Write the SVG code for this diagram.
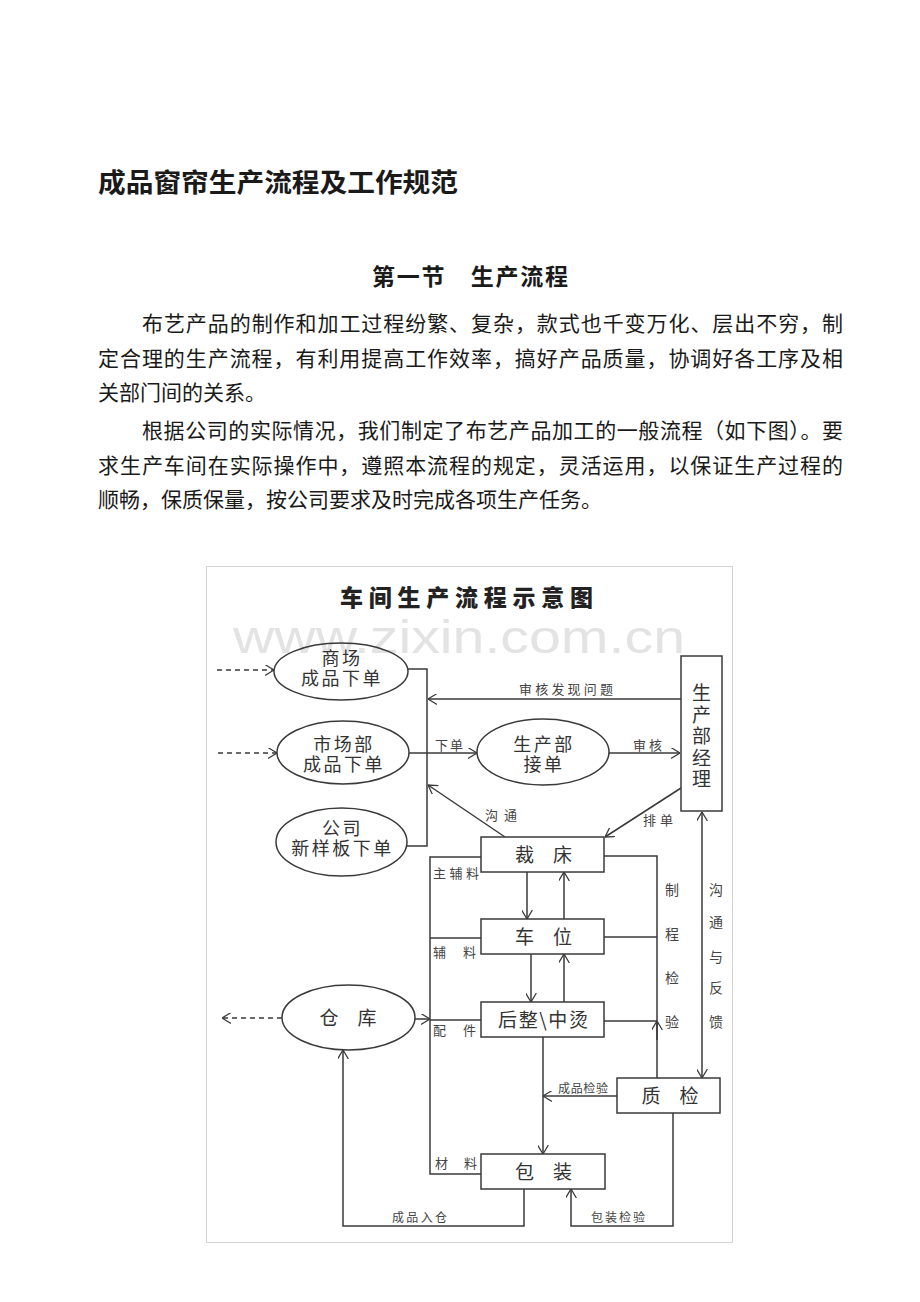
<svg xmlns="http://www.w3.org/2000/svg" width="920" height="1302" viewBox="0 0 920 1302">
<defs>
<style>
.page{font-family:"Noto Sans CJK SC","Noto Sans",sans-serif;fill:#1a1a1a}
.h1{font-size:26px;font-weight:bold}
.h2{font-size:23px;font-weight:bold}
.p{font-size:21px}
.title{font-family:"Noto Sans CJK SC",sans-serif;font-size:23px;font-weight:900;fill:#222}
.wm{font-family:"Liberation Sans",Arial,sans-serif;font-size:47px;fill:#e3e3e3}
.nt{font-family:"Noto Sans CJK SC",sans-serif;font-size:18px;fill:#333;text-anchor:middle;letter-spacing:2.5px}
.bt{font-family:"Noto Sans CJK SC",sans-serif;font-size:19px;fill:#333;text-anchor:middle}
.el{font-family:"Noto Sans CJK SC",sans-serif;font-size:13px;fill:#444}
.es{font-family:"Noto Sans CJK SC",sans-serif;font-size:12px;fill:#444}
.vt{font-family:"Noto Sans CJK SC",sans-serif;font-size:14px;fill:#444;text-anchor:middle}
.shape{fill:none;stroke:#3a3a3a;stroke-width:1.5}
.box{fill:#fff;stroke:#3a3a3a;stroke-width:1.5}
.ln{fill:none;stroke:#3a3a3a;stroke-width:1.5}
.dash{fill:none;stroke:#3a3a3a;stroke-width:1.3;stroke-dasharray:5,4}
</style>
<marker id="ah" viewBox="0 0 10 12" refX="10" refY="6" markerWidth="9" markerHeight="11" markerUnits="userSpaceOnUse" orient="auto-start-reverse">
<path d="M0,0 L10,6 L0,12" fill="none" stroke="#3a3a3a" stroke-width="1.4"/>
</marker>
</defs>
<rect x="0" y="0" width="920" height="1302" fill="#fff"/>

<g id="document-text" class="page">
<text class="h1" x="98" y="192" textLength="360" lengthAdjust="spacingAndGlyphs">成品窗帘生产流程及工作规范</text>
<text class="h2" x="372" y="285" textLength="196" lengthAdjust="spacing">第一节　生产流程</text>
<text class="p" x="142" y="331" textLength="701" lengthAdjust="spacing">布艺产品的制作和加工过程纷繁、复杂，款式也千变万化、层出不穷，制</text>
<text class="p" x="98" y="366" textLength="745" lengthAdjust="spacing">定合理的生产流程，有利用提高工作效率，搞好产品质量，协调好各工序及相</text>
<text class="p" x="98" y="400">关部门间的关系。</text>
<text class="p" x="142" y="438" textLength="701" lengthAdjust="spacing">根据公司的实际情况，我们制定了布艺产品加工的一般流程（如下图）。要</text>
<text class="p" x="98" y="473" textLength="745" lengthAdjust="spacing">求生产车间在实际操作中，遵照本流程的规定，灵活运用，以保证生产过程的</text>
<text class="p" x="98" y="507">顺畅，保质保量，按公司要求及时完成各项生产任务。</text>
</g>

<g id="frame">
<rect x="206.5" y="566.5" width="526" height="676" fill="none" stroke="#d4d4d4" stroke-width="1"/>
<text class="wm" x="233" y="653" textLength="452" lengthAdjust="spacingAndGlyphs">www.zixin.com.cn</text>
<text class="title" x="340" y="606" textLength="253" lengthAdjust="spacing">车间生产流程示意图</text>
</g>

<g id="connectors">
<line class="dash" x1="217" y1="670" x2="274" y2="670" marker-end="url(#ah)"/>
<line class="dash" x1="218" y1="753" x2="277" y2="753" marker-end="url(#ah)"/>
<line class="dash" x1="282" y1="1018" x2="222" y2="1018" marker-end="url(#ah)"/>
<polyline class="ln" points="408,669 427,669 427,846 407,846"/>
<line class="ln" x1="409" y1="753" x2="477" y2="753" marker-end="url(#ah)"/>
<text class="el" x="435" y="750" textLength="28" lengthAdjust="spacing">下单</text>
<line class="ln" x1="609" y1="753" x2="680" y2="753" marker-end="url(#ah)"/>
<text class="el" x="633" y="750" textLength="29" lengthAdjust="spacing">审核</text>
<line class="ln" x1="681" y1="699" x2="428" y2="699" marker-end="url(#ah)"/>
<text class="el" x="519" y="694" textLength="94" lengthAdjust="spacing">审核发现问题</text>
<line class="ln" x1="681" y1="788" x2="605" y2="837" marker-end="url(#ah)"/>
<text class="el" x="643" y="825" textLength="30" lengthAdjust="spacing">排单</text>
<line class="ln" x1="505" y1="837" x2="428" y2="785" marker-end="url(#ah)"/>
<text class="el" x="485" y="820" textLength="32" lengthAdjust="spacing">沟通</text>
<line class="ln" x1="702" y1="812" x2="702" y2="1078" marker-start="url(#ah)" marker-end="url(#ah)"/>
<text class="vt" x="716" y="895">沟</text>
<text class="vt" x="716" y="927">通</text>
<text class="vt" x="716" y="962">与</text>
<text class="vt" x="716" y="993">反</text>
<text class="vt" x="716" y="1027">馈</text>
<polyline class="ln" points="481,857 430,857 430,1174 481,1174"/>
<line class="ln" x1="481" y1="938" x2="430" y2="938"/>
<line class="ln" x1="481" y1="1020" x2="430" y2="1020"/>
<line class="ln" x1="415" y1="1019" x2="430" y2="1019" marker-end="url(#ah)"/>
<text class="el" x="433" y="878" textLength="46" lengthAdjust="spacing">主辅料</text>
<text class="el" x="433" y="957" textLength="43" lengthAdjust="spacing">辅　料</text>
<text class="el" x="433" y="1035" textLength="43" lengthAdjust="spacing">配　件</text>
<text class="el" x="435" y="1168" textLength="42" lengthAdjust="spacing">材　料</text>
<line class="ln" x1="527" y1="872" x2="527" y2="919" marker-end="url(#ah)"/>
<line class="ln" x1="564" y1="919" x2="564" y2="872" marker-end="url(#ah)"/>
<line class="ln" x1="531" y1="954" x2="531" y2="1002" marker-end="url(#ah)"/>
<line class="ln" x1="564" y1="1002" x2="564" y2="954" marker-end="url(#ah)"/>
<line class="ln" x1="543" y1="1037" x2="543" y2="1154" marker-end="url(#ah)"/>
<polyline class="ln" points="604,856 657,856 657,1078"/>
<line class="ln" x1="604" y1="937" x2="657" y2="937"/>
<line class="ln" x1="604" y1="1021" x2="657" y2="1021"/>
<line class="ln" x1="657" y1="1040" x2="657" y2="1021" marker-end="url(#ah)"/>
<text class="vt" x="672" y="895">制</text>
<text class="vt" x="672" y="939">程</text>
<text class="vt" x="672" y="983">检</text>
<text class="vt" x="672" y="1027">验</text>
<line class="ln" x1="617" y1="1096" x2="543" y2="1096" marker-end="url(#ah)"/>
<text class="es" x="558" y="1093" textLength="50" lengthAdjust="spacing">成品检验</text>
<polyline class="ln" points="673,1113 673,1226 571,1226 571,1189" marker-end="url(#ah)"/>
<text class="es" x="591" y="1222" textLength="54" lengthAdjust="spacing">包装检验</text>
<polyline class="ln" points="524,1189 524,1226 343,1226 343,1050" marker-end="url(#ah)"/>
<text class="es" x="392" y="1222" textLength="55" lengthAdjust="spacing">成品入仓</text>
</g>

<g id="node-shangchang">
<ellipse class="shape" cx="341" cy="671.5" rx="67" ry="28.5"/>
<text class="nt" x="342" y="665">商场</text>
<text class="nt" x="342" y="685">成品下单</text>
</g>
<g id="node-shichangbu">
<ellipse class="shape" cx="343" cy="752.5" rx="66" ry="31.5"/>
<text class="nt" x="344" y="751">市场部</text>
<text class="nt" x="344" y="771">成品下单</text>
</g>
<g id="node-gongsi">
<ellipse class="shape" cx="341.5" cy="842" rx="65.5" ry="34"/>
<text class="nt" x="342.5" y="835">公司</text>
<text class="nt" x="342.5" y="855">新样板下单</text>
</g>
<g id="node-jiedan">
<ellipse class="shape" cx="543" cy="752" rx="66" ry="33"/>
<text class="nt" x="544" y="751">生产部</text>
<text class="nt" x="544" y="771">接单</text>
</g>
<g id="node-jingli">
<rect class="box" x="681" y="656" width="41" height="155"/>
<text class="bt" x="701.5" y="700">生</text>
<text class="bt" x="701.5" y="721.5">产</text>
<text class="bt" x="701.5" y="743">部</text>
<text class="bt" x="701.5" y="764.5">经</text>
<text class="bt" x="701.5" y="786">理</text>
</g>
<g id="node-caichuang">
<rect class="box" x="481" y="837" width="123" height="35"/>
<text class="bt" x="543.5" y="862">裁　床</text>
</g>
<g id="node-chewei">
<rect class="box" x="481" y="919" width="123" height="35"/>
<text class="bt" x="543.5" y="944">车　位</text>
</g>
<g id="node-houzheng">
<rect class="box" x="481" y="1002" width="123" height="35"/>
<text class="bt" x="498" y="1027" style="text-anchor:start" textLength="90" lengthAdjust="spacing">后整\中烫</text>
</g>
<g id="node-cangku">
<ellipse class="shape" cx="348.5" cy="1017.5" rx="66.5" ry="32.5"/>
<text class="bt" x="348" y="1025">仓　库</text>
</g>
<g id="node-zhijian">
<rect class="box" x="617" y="1078" width="103" height="35"/>
<text class="bt" x="670" y="1103">质　检</text>
</g>
<g id="node-baozhuang">
<rect class="box" x="481" y="1154" width="124" height="35"/>
<text class="bt" x="543.5" y="1179">包　装</text>
</g>
</svg>
